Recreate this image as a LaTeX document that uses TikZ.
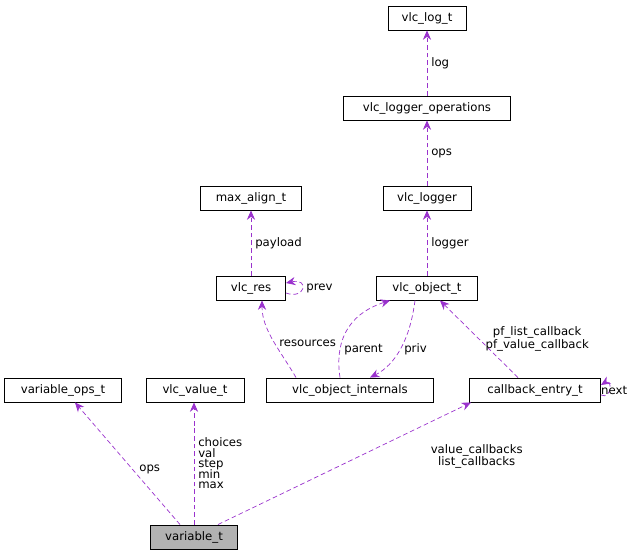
\documentclass[tikz,border=0pt]{standalone}
\usepackage{fontspec}
\setmainfont{DejaVu Sans}
\usetikzlibrary{arrows.meta,positioning}
\definecolor{edgecol}{HTML}{9A32CD}
\tikzset{
    box/.style={draw, thick, fill=white, font=\fontsize{10}{11}\selectfont, minimum height=0.72cm, inner xsep=3pt, inner ysep=0pt},
    dep/.style={edgecol, dash pattern=on 4pt off 2.5pt, semithick, -{Stealth[length=8pt,width=7pt]}},
    lbl/.style={font=\fontsize{10}{11}\selectfont, align=left, text=black}
}
\begin{document}
\begin{tikzpicture}[x=0.03cm, y=-0.03cm]
    \useasboundingbox (0,0) rectangle (635,557);

    \node[box, minimum width=78*0.03cm] (logt) at (427,18) {vlc\_log\_t};
    \node[box, minimum width=167*0.03cm] (logops) at (427,108) {vlc\_logger\_operations};
    \node[box, minimum width=88*0.03cm] (logger) at (427,198) {vlc\_logger};
    \node[box, minimum width=101*0.03cm] (maxalign) at (251,198) {max\_align\_t};
    \node[box, minimum width=69*0.03cm] (res) at (251,288) {vlc\_res};
    \node[box, minimum width=101*0.03cm] (object) at (427,288) {vlc\_object\_t};
    \node[box, minimum width=117*0.03cm] (varops) at (63,390) {variable\_ops\_t};
    \node[box, minimum width=98*0.03cm] (value) at (195,390) {vlc\_value\_t};
    \node[box, minimum width=167*0.03cm] (internals) at (350,390) {vlc\_object\_internals};
    \node[box, minimum width=131*0.03cm] (callback) at (535,390) {callback\_entry\_t};
    \node[box, fill=black!30, minimum width=87*0.03cm] (var) at (194,537) {variable\_t};

    % log chain
    \draw[dep] (logops) -- node[lbl, right] {log} (logt);
    \draw[dep] (logger) -- node[lbl, right] {ops} (logops);
    \draw[dep] (object) -- node[lbl, right] {logger} (logger);
    \draw[dep] (res) -- node[lbl, right] {payload} (maxalign);
    \path (res.east) ++(0,-5) coordinate (r1) (res.east) ++(0,5) coordinate (r2);
    \draw[dep] (r2) .. controls (305,300) and (310,278) .. node[lbl, right, pos=0.5] {prev} (r1);

    % object internals
    \draw[dep] ([xshift=-54*0.03cm]internals.north) .. controls (280,350) and (262,330) .. node[lbl, pos=0.45, right] {resources} ([xshift=11*0.03cm]res.south);
    \draw[dep] ([xshift=-10*0.03cm]internals.north) .. controls (335,345) and (345,315) .. node[lbl, pos=0.3, right] {parent} ([xshift=-37*0.03cm]object.south);
    \draw[dep] ([xshift=-12*0.03cm]object.south) .. controls (410,340) and (395,365) .. node[lbl, pos=0.5, right] {priv} ([xshift=20*0.03cm]internals.north);

    % callbacks
    \draw[dep] ([xshift=-17*0.03cm]callback.north) -- node[lbl, right, align=center, xshift=2pt] {pf\_list\_callback\\pf\_value\_callback} ([xshift=13*0.03cm]object.south);
    \path (callback.east) ++(0,-5) coordinate (c1) (callback.east) ++(0,5) coordinate (c2);
    \draw[dep] (c2) .. controls (612,400) and (612,378) .. (c1);
    \node[lbl, anchor=west, inner sep=0pt] (nextlbl) at (601,390) {next};

    % variable_t
    \draw[dep] ([xshift=-14*0.03cm]var.north) -- node[lbl, right, pos=0.45, xshift=2pt] {ops} ([xshift=12*0.03cm]varops.south);
    \draw[dep] (var.north) -- node[lbl, right, pos=0.5, align=left] {choices\\[-2pt]val\\[-2pt]step\\[-2pt]min\\[-2pt]max} (var.north |- value.south);
    \draw[dep] ([xshift=24*0.03cm]var.north) -- node[lbl, pos=0.5, right, xshift=70pt, yshift=6pt, align=center] {value\_callbacks\\list\_callbacks} ([xshift=-64*0.03cm]callback.south);
\end{tikzpicture}
\end{document}
